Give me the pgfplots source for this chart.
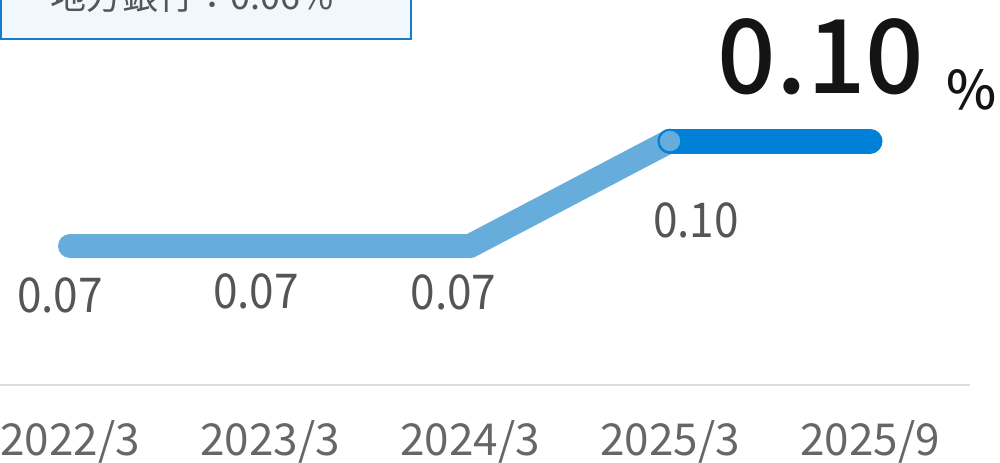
\documentclass[border=0pt]{standalone}
\usepackage{fontspec}
\setmainfont{Noto Sans CJK JP}
\newfontfamily\medfont{Noto Sans CJK JP}[UprightFont={* Medium}]
\usepackage{graphicx}
\usepackage{pgfplots}
\pgfplotsset{compat=1.18}
\definecolor{lightline}{RGB}{102,173,219}
\definecolor{darkline}{RGB}{0,128,214}
\definecolor{labelgray}{RGB}{85,85,85}
\definecolor{tickgray}{RGB}{102,102,102}
\definecolor{rulegray}{RGB}{220,220,220}
\definecolor{boxfill}{RGB}{240,247,253}
\definecolor{boxedge}{RGB}{20,125,205}
\begin{document}
\begin{tikzpicture}
% axis box = whole picture, 1px = 0.75pt
\begin{axis}[
  at={(0,0)}, anchor=south west,
  scale only axis, width=750pt, height=346.5pt,
  xmin=-0.35, xmax=4.65, ymin=0.008286, ymax=0.140286,
  axis x line=bottom, axis y line=none,
  x axis line style={draw=none},
  major tick length=0pt,
  xtick={0,1,2,3,4},
  xticklabels={2022/3,2023/3,2024/3,2025/3,2025/9},
  xticklabel style={font=\fontsize{33}{36}\selectfont, text=tickgray,
    anchor=base, inner sep=0pt, yshift=5.25pt},
  clip=false,
]
% past values
\addplot[lightline, line width=18pt, line cap=round, line join=round]
  coordinates {(0,0.07) (1,0.07) (2,0.07) (3,0.10)};
% latest
\addplot[darkline, line width=18.75pt, line cap=round]
  coordinates {(3,0.10) (4,0.10)};
\addplot[only marks, mark=*, mark size=8.5pt,
  mark options={fill=lightline, draw=darkline, line width=1.5pt}]
  coordinates {(3,0.10)};
% value labels
\begin{scope}[every node/.style={inner sep=0pt, text=labelgray,
    font=\fontsize{36}{40}\selectfont}]
  \node[xshift=-7.5pt, yshift=-36.75pt] at (axis cs:0,0.07) {\scalebox{0.92}[1]{0.07}};
  \node[xshift=-10.5pt, yshift=-34.1pt] at (axis cs:1,0.07) {\scalebox{0.92}[1]{0.07}};
  \node[xshift=-12.4pt, yshift=-34.9pt] at (axis cs:2,0.07) {\scalebox{0.92}[1]{0.07}};
  \node[xshift=19.5pt, yshift=-59.6pt] at (axis cs:3,0.10) {\scalebox{0.92}[1]{0.10}};
\end{scope}
\end{axis}
% decorations in pixel units
\begin{scope}[x=0.75pt, y=-0.75pt, yshift=346.5pt]
  \draw[rulegray, line width=1.5pt] (0,385) -- (970,385);
  \draw[boxedge, fill=boxfill, line width=1.5pt] (1,-100) rectangle (411,39);
  \node[anchor=base west, inner sep=0pt, text=labelgray,
    font=\fontsize{27}{30}\selectfont] at (50,9) {地方銀行：0.06\%};
  \node[anchor=base, inner sep=0pt, text=black!92,
    font=\fontsize{77}{80}\medfont] at (821,93) {0.10};
  \node[anchor=base, inner sep=0pt, text=black!92,
    font=\fontsize{40}{42}\medfont] at (972,109) {\%};
\end{scope}
\pgfresetboundingbox
\useasboundingbox (0,0) rectangle (750pt,346.5pt);
\end{tikzpicture}
\end{document}
